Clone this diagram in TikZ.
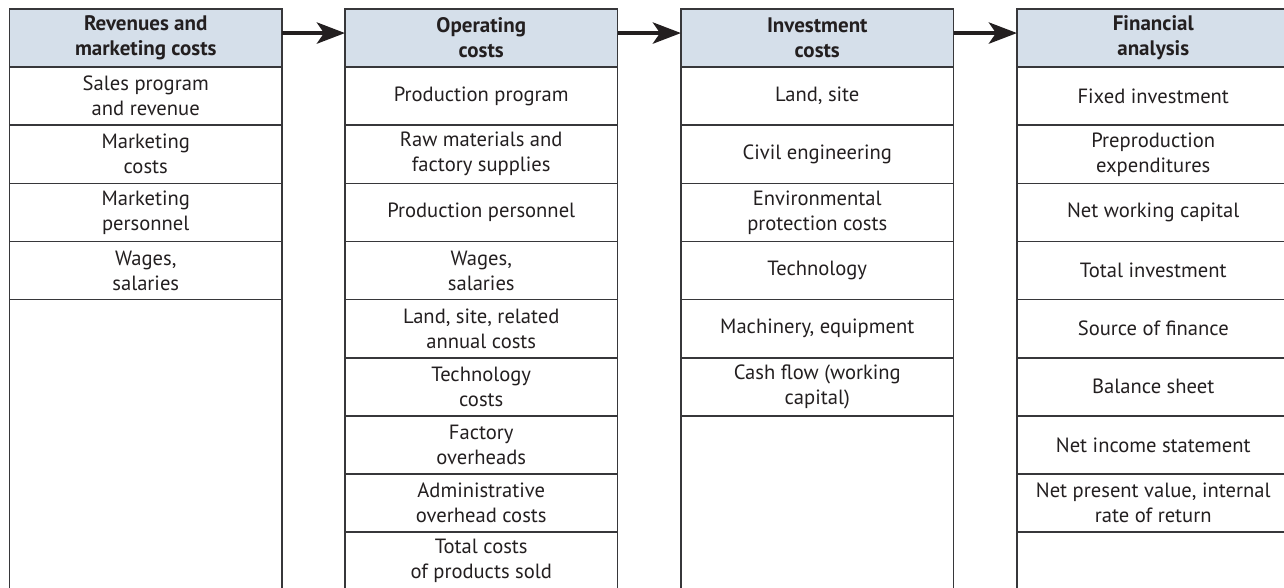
\documentclass[tikz,border=0pt]{standalone}
\usepackage{fontspec}
\setmainfont{PT Sans}
\usetikzlibrary{arrows.meta,positioning}
\definecolor{hdrfill}{RGB}{213,223,234}
\definecolor{frame}{RGB}{55,55,58}
\definecolor{ink}{RGB}{35,31,32}
\tikzset{
  cell/.style={draw=frame, line width=0.85pt, rectangle, inner sep=0pt, outer sep=0pt,
    minimum width=136.25pt, minimum height=29.06pt, align=center, text=ink,
    font=\fontsize{10.3}{12.5}\selectfont, anchor=north},
  hdr/.style={cell, fill=hdrfill, font=\fontsize{10.5}{12.5}\selectfont\bfseries},
  filler/.style={cell, minimum height=200pt},
  flowarrow/.style={draw=ink, line width=2.4pt, -{Stealth[length=14pt,width=10.5pt,inset=3.5pt]}}
}
\begin{document}
\begin{tikzpicture}[x=0.5pt,y=-0.5pt]
\useasboundingbox (0,0) rectangle (1284,588);
\clip (0,0) rectangle (1284,588);
% column 1
\node[hdr] (c1h) at (145.75,9) {Revenues and\\marketing costs};
\node[cell, below=0pt of c1h] (c1r1) {Sales program\\and revenue};
\node[cell, below=0pt of c1r1] (c1r2) {Marketing\\costs};
\node[cell, below=0pt of c1r2] (c1r3) {Marketing\\personnel};
\node[cell, below=0pt of c1r3] (c1r4) {Wages,\\salaries};
\node[filler, below=0pt of c1r4] (c1f) {};
% column 2
\node[hdr] (c2h) at (481.25,9) {Operating\\costs};
\node[cell, below=0pt of c2h] (c2r1) {Production program};
\node[cell, below=0pt of c2r1] (c2r2) {Raw materials and\\factory supplies};
\node[cell, below=0pt of c2r2] (c2r3) {Production personnel};
\node[cell, below=0pt of c2r3] (c2r4) {Wages,\\salaries};
\node[cell, below=0pt of c2r4] (c2r5) {Land, site, related\\annual costs};
\node[cell, below=0pt of c2r5] (c2r6) {Technology\\costs};
\node[cell, below=0pt of c2r6] (c2r7) {Factory\\overheads};
\node[cell, below=0pt of c2r7] (c2r8) {Administrative\\overhead costs};
\node[cell, below=0pt of c2r8] (c2r9) {Total costs\\of products sold};
% column 3
\node[hdr] (c3h) at (817.25,9) {Investment\\costs};
\node[cell, below=0pt of c3h] (c3r1) {Land, site};
\node[cell, below=0pt of c3r1] (c3r2) {Civil engineering};
\node[cell, below=0pt of c3r2] (c3r3) {Environmental\\protection costs};
\node[cell, below=0pt of c3r3] (c3r4) {Technology};
\node[cell, below=0pt of c3r4] (c3r5) {Machinery, equipment};
\node[cell, below=0pt of c3r5] (c3r6) {Cash flow (working\\capital)};
\node[filler, below=0pt of c3r6] (c3f) {};
% column 4
\node[hdr] (c4h) at (1153.25,9) {Financial\\analysis};
\node[cell, below=0pt of c4h] (c4r1) {Fixed investment};
\node[cell, below=0pt of c4r1] (c4r2) {Preproduction\\expenditures};
\node[cell, below=0pt of c4r2] (c4r3) {Net working capital};
\node[cell, below=0pt of c4r3] (c4r4) {Total investment};
\node[cell, below=0pt of c4r4] (c4r5) {Source of finance};
\node[cell, below=0pt of c4r5] (c4r6) {Balance sheet};
\node[cell, below=0pt of c4r6] (c4r7) {Net income statement};
\node[cell, below=0pt of c4r7] (c4r8) {Net present value, internal\\rate of return};
\node[filler, below=0pt of c4r8] (c4f) {};
% arrows
\draw[flowarrow] ([yshift=2.5pt]c1h.east) -- ([yshift=2.5pt]c2h.west);
\draw[flowarrow] ([yshift=2.5pt]c2h.east) -- ([yshift=2.5pt]c3h.west);
\draw[flowarrow] ([yshift=2.5pt]c3h.east) -- ([yshift=2.5pt]c4h.west);
\end{tikzpicture}
\end{document}
